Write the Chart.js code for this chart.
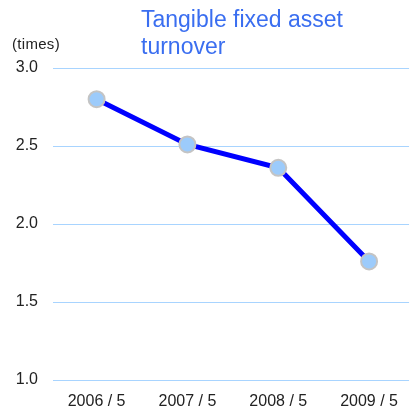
<!DOCTYPE html>
<html>
<head>
<meta charset="utf-8">
<script src="https://cdn.jsdelivr.net/npm/chart.js@4"></script>
<style>
  html, body { margin: 0; padding: 0; background: #fff; }
  #wrap { position: relative; width: 410px; height: 408px; }
  #title { position: absolute; left: 141px; top: 6px; font: 23px "Liberation Sans", Arial, sans-serif; line-height: 27px; color: #3a6ef0; }
  #unit { position: absolute; left: 12px; top: 35px; font: 15px "Liberation Sans", Arial, sans-serif; letter-spacing: 0.3px; color: #222; }
</style>
</head>
<body>
<div id="wrap">
  <canvas id="myChart" width="410" height="408"></canvas>
  <div id="title">Tangible fixed asset<br>turnover</div>
  <div id="unit">(times)</div>
</div>
<script>
const categories = ['2006 / 5', '2007 / 5', '2008 / 5', '2009 / 5']
const turnover = [2.80, 2.51, 2.36, 1.76]
const yTicks = [1.0, 1.5, 2.0, 2.5, 3.0]

const points = turnover.map((v, i) => {
    return { x: i, y: v }
})

var ctx = document.getElementById('myChart').getContext('2d');
var chart = new Chart(ctx, {
    type: 'line',
    data: {
        datasets: [{
            label: 'Tangible fixed asset turnover',
            data: points,
            borderColor: '#0000ff',
            borderWidth: 5,
            pointRadius: 8,
            pointBackgroundColor: '#9ccbfb',
            pointBorderColor: '#c4c4c4',
            pointBorderWidth: 2,
            tension: 0
        }]
    },
    options: {
        responsive: false,
        animation: false,
        layout: { autoPadding: false, padding: { top: 68, left: 0, right: 0, bottom: 0 } },
        plugins: {
            legend: { display: false },
            tooltip: { enabled: false }
        },
        scales: {
            x: {
                type: 'linear',
                min: -0.48,
                max: 3.44,
                afterFit: (scale) => { scale.height = 28 },
                afterBuildTicks: (scale) => {
                    scale.ticks = categories.map((c, i) => ({ value: i }))
                },
                grid: { display: false, drawTicks: false },
                border: { display: false },
                ticks: {
                    color: '#222',
                    font: { family: 'Liberation Sans', size: 16 },
                    padding: 12,
                    maxRotation: 0,
                    callback: (v) => categories[v]
                }
            },
            y: {
                min: 1.0,
                max: 3.0,
                afterFit: (scale) => { scale.width = 53 },
                afterBuildTicks: (scale) => {
                    scale.ticks = yTicks.map((v) => ({ value: v }))
                },
                grid: { color: '#a8d4ff', lineWidth: 1, drawTicks: false },
                border: { display: false },
                ticks: {
                    color: '#222',
                    font: { family: 'Liberation Sans', size: 16 },
                    padding: 15,
                    callback: (v) => v.toFixed(1)
                }
            }
        }
    }
});
</script>
</body>
</html>
